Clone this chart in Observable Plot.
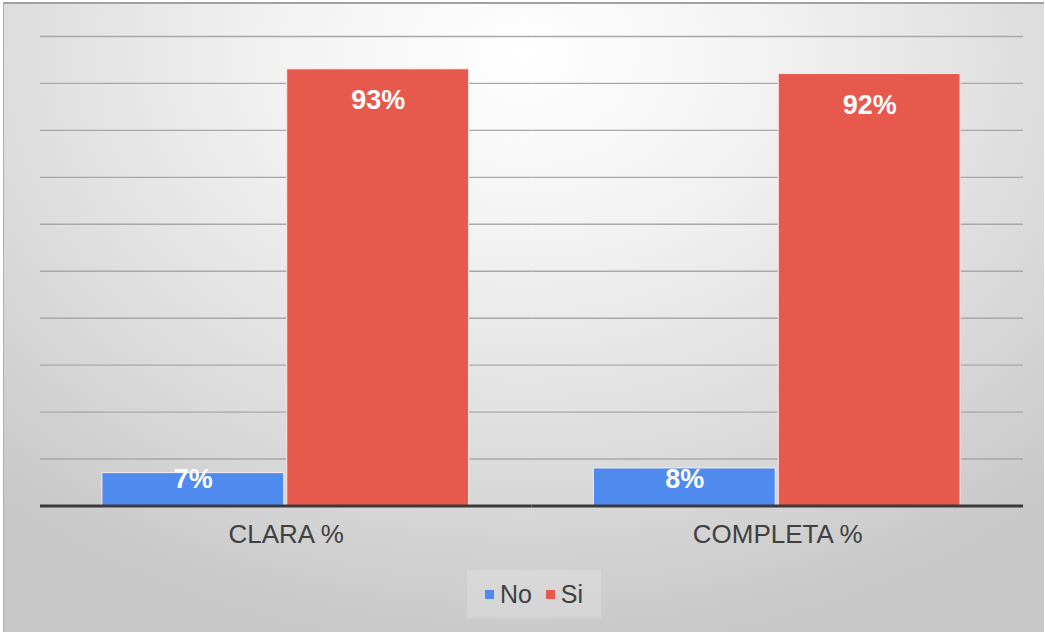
<!DOCTYPE html>
<html>
<head>
<meta charset="utf-8">
<script src="https://cdn.jsdelivr.net/npm/d3@7"></script>
<script src="https://cdn.jsdelivr.net/npm/@observablehq/plot@0.6"></script>
<style>
  html, body { margin: 0; padding: 0; background: #fff; }
  #frame {
    position: absolute; left: 3px; top: 2px; width: 1040px; height: 628px;
    border-top: 2px solid #a0a0a0; border-left: 1px solid #b0b0b0;
    background: radial-gradient(ellipse 75% 95% at 50% 8%, #ffffff 0%, #f3f3f3 30%, #dedede 65%, #c8c8c8 100%);
    font-family: "Liberation Sans", Arial, sans-serif;
    overflow: hidden;
  }
  #chart { position: absolute; left: -4px; top: -4px; }
  #legend {
    position: absolute; left: 463px; top: 566px; width: 134px; height: 48px;
    background: rgba(255,255,255,0.18);
    display: flex; align-items: center; justify-content: center;
    font-size: 25px; color: #404040;
  }
  .sw { display: inline-block; width: 9px; height: 9px; margin-right: 6px; }
  .item { display: flex; align-items: center; margin: 0 7px; }
</style>
</head>
<body>
<div id="frame">
  <div id="chart"></div>
  <div id="legend"></div>
</div>
<script>
const categories = ["CLARA %", "COMPLETA %"];
const responses = ["No", "Si"];
const noValues = [7, 8];
const siValues = [93, 92];
const yTicks = [10, 20, 30, 40, 50, 60, 70, 80, 90, 100];
const colors = ["#4f8bee", "#e8594d"];

const data = [];
categories.forEach((c, i) => {
  data.push({cat: c, resp: "No", value: noValues[i]});
  data.push({cat: c, resp: "Si", value: siValues[i]});
});

const fmt = d => d.value + "%";

const plot = Plot.plot({
  width: 1045,
  height: 560,
  marginLeft: 40,
  marginRight: 21,
  marginTop: 36,
  marginBottom: 54,
  style: {background: "transparent", fontFamily: "'Liberation Sans', Arial, sans-serif"},
  fx: {domain: categories, padding: 0, label: null},
  x: {domain: responses, paddingInner: 0.015, paddingOuter: 0.333, axis: null},
  y: {domain: [0, 100], axis: null},
  color: {domain: responses, range: colors},
  marks: [
    Plot.gridY(yTicks, {stroke: "#a8a8a8", strokeOpacity: 1, strokeWidth: 1.4}),
    Plot.barY(data, {fx: "cat", x: "resp", y: "value", fill: "resp", stroke: "#fbe9e6", strokeWidth: 1}),
    Plot.text(data.filter(d => d.value > 20), {fx: "cat", x: "resp", y: "value", text: fmt, dy: 31, fill: "white", fontWeight: "bold", fontSize: 27}),
    Plot.text(data.filter(d => d.value <= 20), {fx: "cat", x: "resp", y: 0, text: fmt, dy: -27, fill: "white", fontWeight: "bold", fontSize: 27}),
    Plot.ruleY([0], {stroke: "#3a3a3a", strokeWidth: 3}),
    Plot.axisFx({anchor: "bottom", label: null, tickSize: 0, tickPadding: 19, fontSize: 26, fill: "#404040"})
  ]
});
document.getElementById("chart").appendChild(plot);

const legend = document.getElementById("legend");
responses.forEach((r, i) => {
  const item = document.createElement("span");
  item.className = "item";
  const sw = document.createElement("span");
  sw.className = "sw";
  sw.style.background = colors[i];
  item.appendChild(sw);
  item.appendChild(document.createTextNode(r));
  legend.appendChild(item);
});
</script>
</body>
</html>
